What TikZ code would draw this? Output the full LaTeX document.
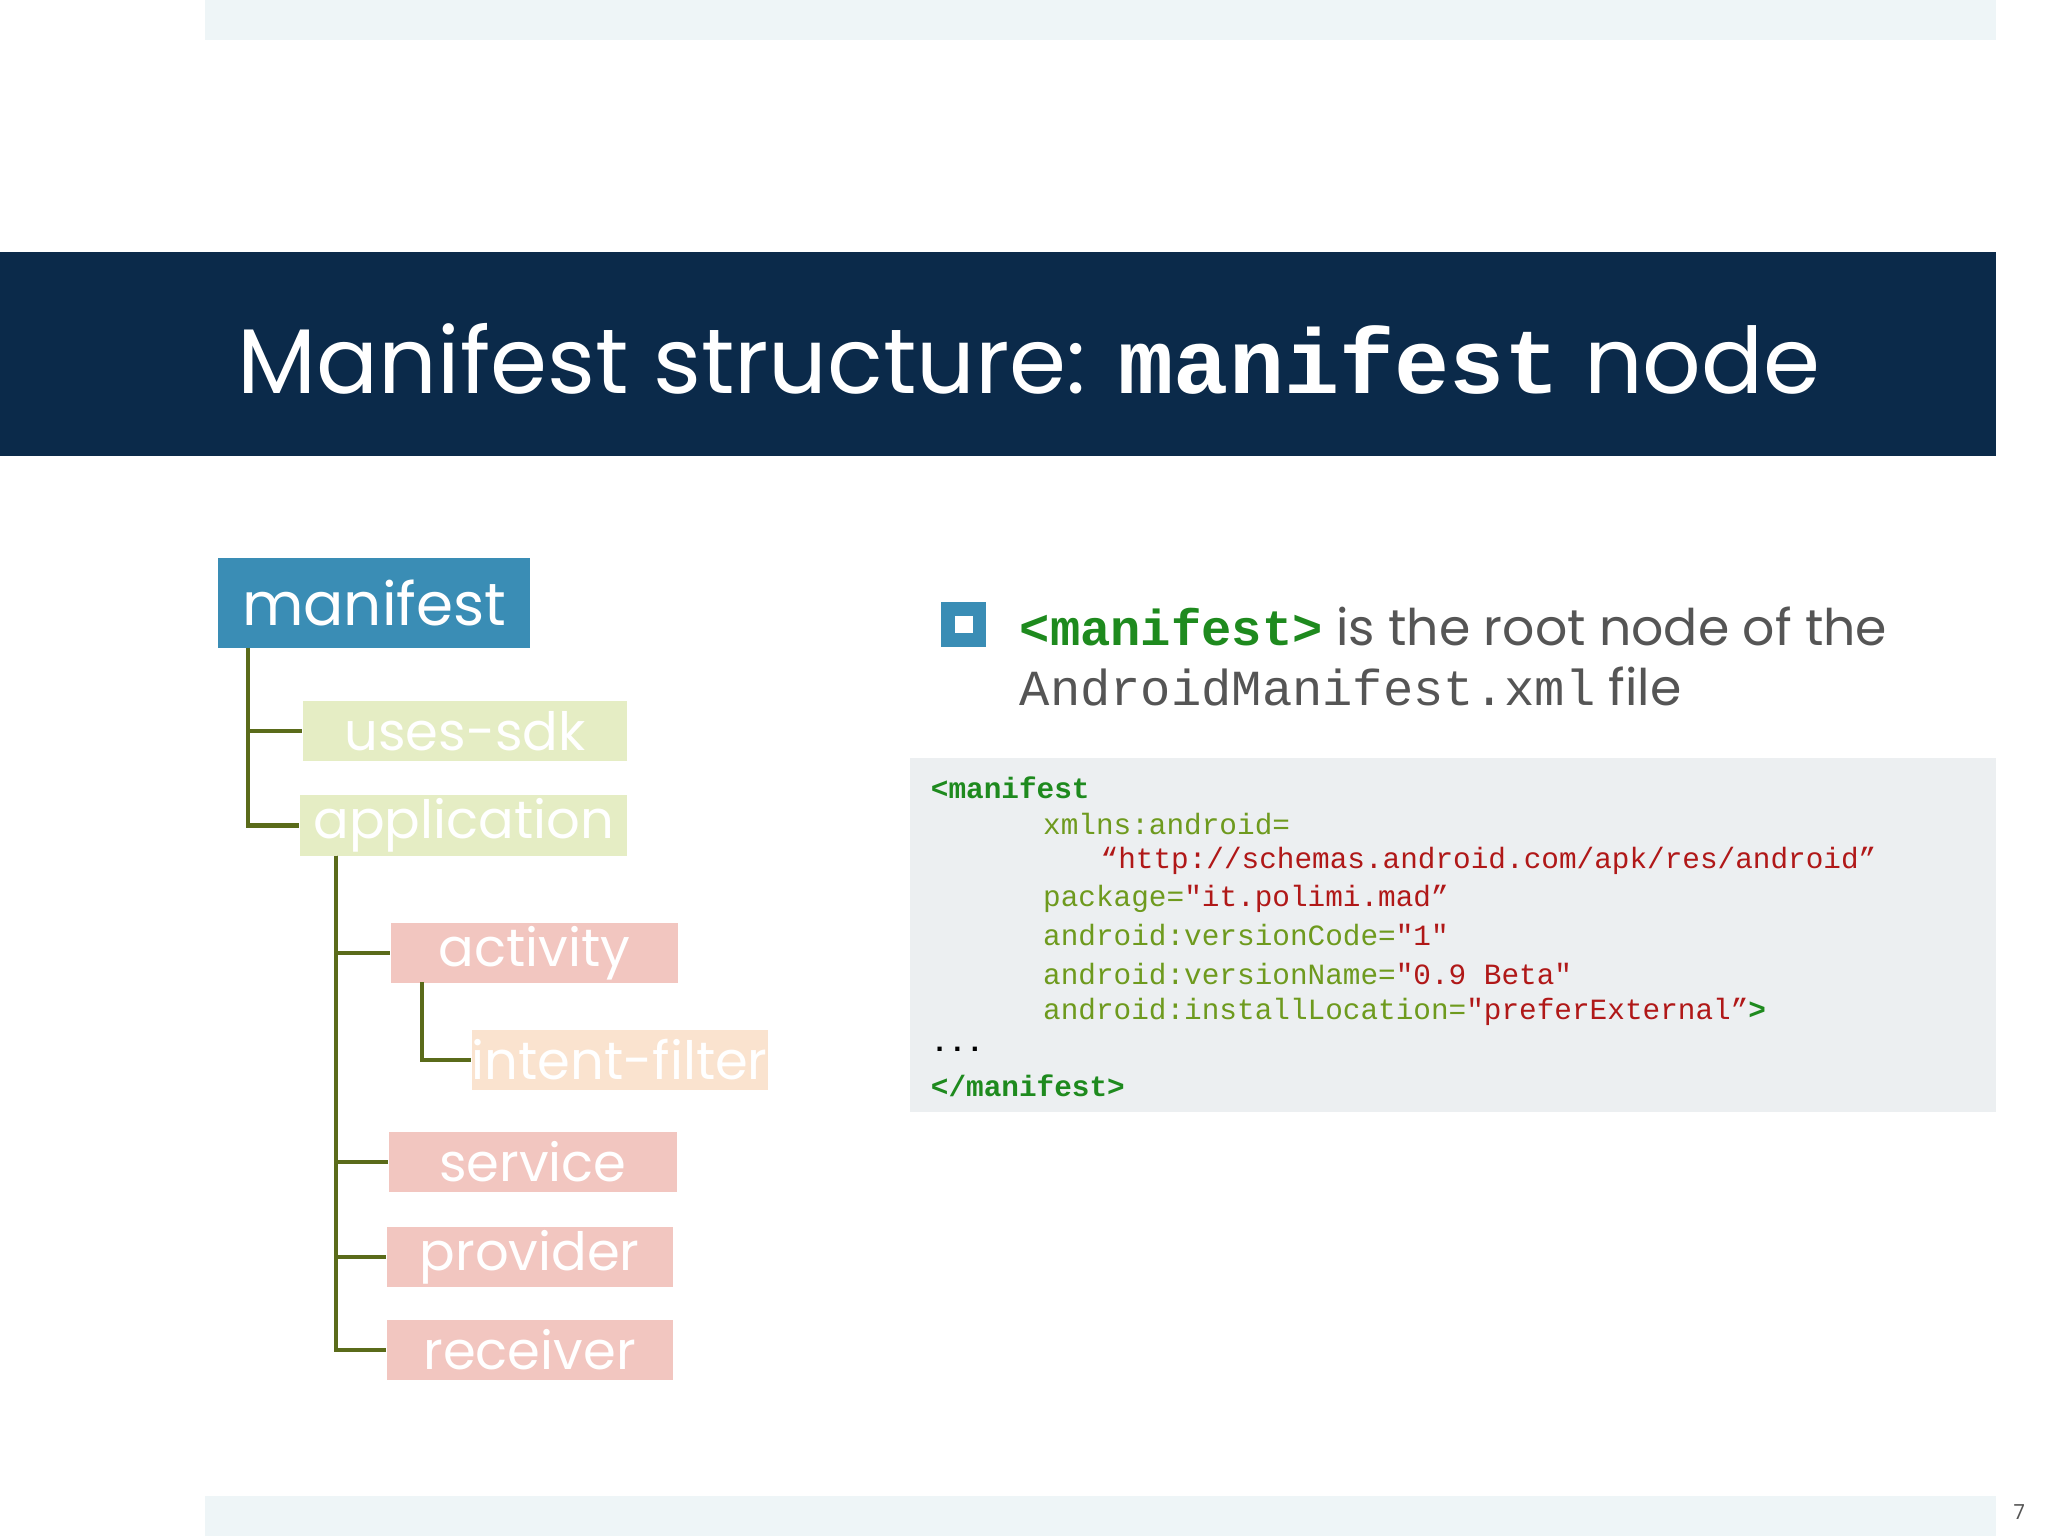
\documentclass[tikz,border=0pt]{standalone}
\usepackage{fontspec}
\setmainfont{Poppins}
\newfontfamily\codefont{Liberation Mono}
\usetikzlibrary{positioning,calc}
\definecolor{navy}{HTML}{0B2A4A}
\definecolor{band}{HTML}{EEF5F7}
\definecolor{mblue}{HTML}{3A8DB5}
\definecolor{lgreen}{HTML}{E5EDC4}
\definecolor{lpink}{HTML}{F2C6C0}
\definecolor{lpeach}{HTML}{FAE3CF}
\definecolor{olive}{HTML}{5A6B1A}
\definecolor{codebg}{HTML}{ECEFF1}
\definecolor{tagc}{HTML}{1E8A1E}
\definecolor{attrc}{HTML}{6E9A1E}
\definecolor{strc}{HTML}{B01818}
\definecolor{txtgray}{HTML}{555555}
\begin{document}
\begin{tikzpicture}[x=1cm,y=1cm,
box/.style={minimum width=2.2cm,minimum height=0.46cm,inner sep=0pt,text=white,font=\fontsize{11.5}{12}\selectfont},
tree/.style={draw=olive,line width=0.9pt},
code/.style={anchor=west,inner sep=0pt,font=\codefont\fontsize{6.4}{7}\selectfont}]
\useasboundingbox (0,0) rectangle (15.68,-11.76);
% bands
  \fill[band] (1.57,0) rectangle (15.28,-0.31);
  \fill[band] (1.57,-11.45) rectangle (15.28,-11.76);
  \fill[navy] (0,-1.93) rectangle (15.28,-3.49);
  \node[text=white,font=\fontsize{20}{22}\selectfont] (title) at (7.88,-2.75)
    {Manifest structure: {\codefont\bfseries manifest} node};
% tree nodes
  \node[box,fill=mblue,minimum width=2.39cm,minimum height=0.69cm,font=\fontsize{13}{14}\selectfont] (manifest) at (2.865,-4.615) {manifest};
  \node[box,fill=lgreen,minimum width=2.48cm] (uses) at (3.56,-5.595) {uses-sdk};
  \node[box,fill=lgreen,minimum width=2.5cm] (app) at (3.55,-6.32) {application};
  \node[box,fill=lpink] (activity) at (4.09,-7.295) {activity};
  \node[box,fill=lpeach,minimum width=2.17cm] (intent) at (4.745,-8.115) {intent-filter};
  \node[box,fill=lpink] (service) at (4.08,-8.895) {service};
  \node[box,fill=lpink,minimum width=2.19cm] (provider) at (4.055,-9.625) {provider};
  \node[box,fill=lpink,minimum width=2.19cm] (receiver) at (4.055,-10.335) {receiver};
  \coordinate (t1) at (1.90,-4.96);
  \coordinate (t2) at (2.57,-6.55);
  \coordinate (t3) at (3.23,-7.52);
  %edges
  \draw[tree] (t1) |- (uses.west);
  \draw[tree] (t1) |- (app.west);
  \draw[tree] (t2) |- (receiver.west);
  \draw[tree] (t2) |- (activity.west);
  \draw[tree] (t2) |- (service.west);
  \draw[tree] (t2) |- (provider.west);
  \draw[tree] (t3) |- (intent.west);
% bullet
  \node[draw=mblue,line width=3pt,fill=white,minimum size=0.24cm,inner sep=0pt] (bullet) at (7.38,-4.78) {};
  \node[anchor=west,inner sep=0pt,text=txtgray,font=\fontsize{11}{12}\selectfont] (b1) at (7.8,-4.8)
    {{\codefont\bfseries\color{tagc}<manifest>} is the root node of the};
  \node[anchor=west,inner sep=0pt,text=txtgray,font=\fontsize{11}{12}\selectfont] (b2) at (7.8,-5.26)
    {{\codefont AndroidManifest.xml} file};
% code
  \fill[codebg] (6.97,-5.80) rectangle (15.28,-8.51);
  \node[code] (c1) at (7.12,-6.03) {\bfseries\color{tagc}<manifest};
  \node[code,text=attrc] (c2) at (7.98,-6.31) {xmlns:android=};
  \node[code,text=strc] (c3) at (8.42,-6.59) {“http://schemas.android.com/apk/res/android”};
  \node[code,text=attrc] (c4) at (7.98,-6.88) {package=\textcolor{strc}{"it.polimi.mad”}};
  \node[code,text=attrc] (c5) at (7.98,-7.16) {android:versionCode=\textcolor{strc}{"1"}};
  \node[code,text=attrc] (c6) at (7.98,-7.46) {android:versionName=\textcolor{strc}{"0.9 Beta"}};
  \node[code,text=attrc] (c7) at (7.98,-7.75) {android:installLocation=\textcolor{strc}{"preferExternal”}\textcolor{tagc}{\bfseries>}};
  \node[code] (c8) at (7.12,-8.03) {\bfseries...};
  \node[code] (c9) at (7.12,-8.31) {\bfseries\color{tagc}</manifest>};
  \node[text=txtgray,font=\fontsize{4.5}{5}\selectfont] (page) at (15.46,-11.58) {7};
\end{tikzpicture}
\end{document}
